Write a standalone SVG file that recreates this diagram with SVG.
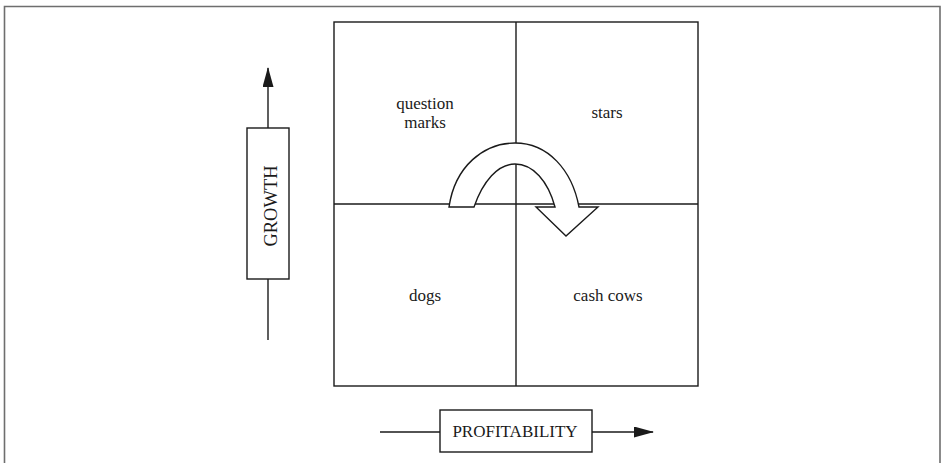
<svg xmlns="http://www.w3.org/2000/svg" width="941" height="463" viewBox="0 0 941 463">
  <style>
    .frame { fill: none; stroke: #6e6e6e; stroke-width: 1.6; }
    .line { fill: none; stroke: #1a1a1a; stroke-width: 1.4; }
    .box { fill: #ffffff; stroke: #1a1a1a; stroke-width: 1.4; }
    .label { font-family: "Liberation Serif", "Times New Roman", serif; font-size: 17px; fill: #1a1a1a; text-anchor: middle; }
  </style>
  <defs>
    <marker id="head" viewBox="0 0 20 11" refX="19" refY="5.5" markerWidth="20" markerHeight="11" markerUnits="userSpaceOnUse" orient="auto">
      <path d="M0,0 L20,5.5 L0,11 Z" fill="#1a1a1a"/>
    </marker>
  </defs>
  <rect width="941" height="463" fill="#ffffff"/>

  <!-- outer frame (open at bottom) -->
  <path class="frame" d="M4.5,463 L4.5,6.5 L940,6.5 L940,463"/>

  <!-- matrix -->
  <g id="matrix">
    <rect class="line" x="334" y="22" width="364" height="364"/>
    <line class="line" x1="516" y1="22" x2="516" y2="386"/>
    <line class="line" x1="334" y1="204" x2="698" y2="204"/>
  </g>

  <g id="question-marks">
    <text class="label" x="425" y="109">question</text>
    <text class="label" x="425" y="128">marks</text>
  </g>
  <g id="stars">
    <text class="label" x="607" y="118">stars</text>
  </g>
  <g id="dogs">
    <text class="label" x="425" y="301">dogs</text>
  </g>
  <g id="cash-cows">
    <text class="label" x="608" y="301">cash cows</text>
  </g>

  <!-- growth axis -->
  <g id="growth">
    <rect class="box" x="247" y="128" width="42" height="151"/>
    <text class="label" transform="translate(277,206) rotate(-90)" style="font-size:18.5px">GROWTH</text>
  </g>

  <!-- profitability axis -->
  <g id="profitability">
    <rect class="box" x="440" y="410" width="152" height="42"/>
    <text class="label" x="515" y="437">PROFITABILITY</text>
  </g>

  <!-- connectors -->
  <g id="connectors">
    <line class="line" x1="268" y1="128" x2="268" y2="68" marker-end="url(#head)"/>
    <line class="line" x1="268" y1="279" x2="268" y2="340"/>
    <line class="line" x1="380" y1="432" x2="440" y2="432"/>
    <line class="line" x1="592" y1="432" x2="653" y2="432" marker-end="url(#head)"/>
    <!-- curved arrow from question marks across stars into cash cows -->
    <path class="box" stroke-linejoin="miter" d="M449,207 C455,166 484,143 515,143 C548,143 572,170 579,207 L598,207 L566,236 L536,207 L555,207 C548,181 533,164 515,164 C498,164 483,181 474,207 Z"/>
  </g>
</svg>
